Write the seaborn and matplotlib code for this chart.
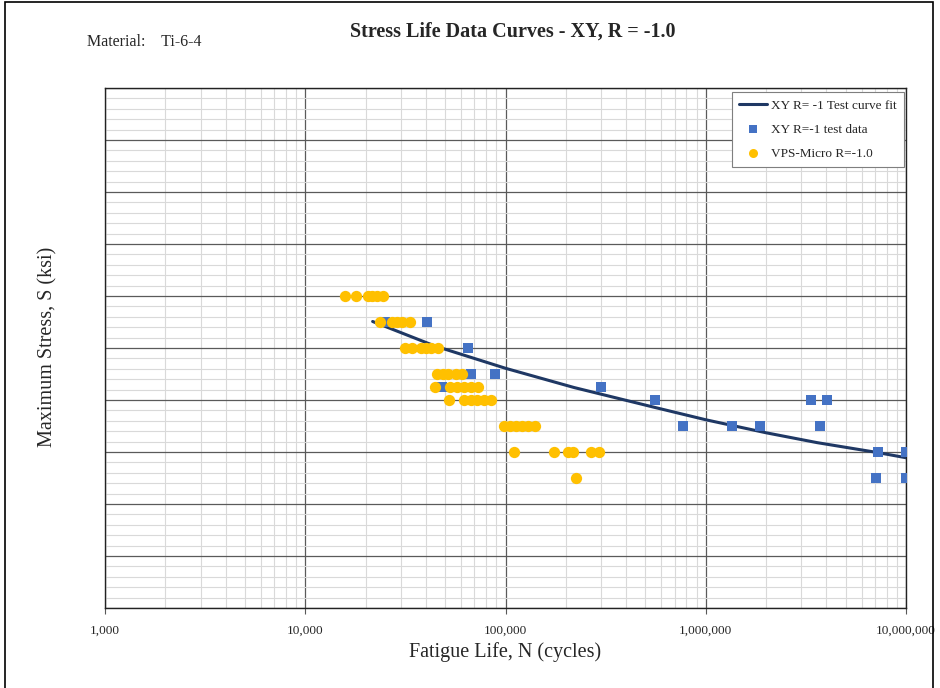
import matplotlib
matplotlib.use("Agg")
import matplotlib.pyplot as plt
from matplotlib.patches import Rectangle
from matplotlib.ticker import FixedLocator, FuncFormatter, MultipleLocator, NullFormatter
import pandas as pd
import seaborn as sns

# XY R=-1 test curve fit (cycles, ksi)
fit_cycles = [21700, 44300, 100000, 220000, 553000, 1000000, 2000000, 3600000, 7200000, 10000000]
fit_stress = [55.1, 50.4, 46.1, 42.4, 38.6, 36.2, 33.7, 31.8, 29.9, 28.9]

# XY R=-1 test data
test_cycles = [25000, 40500, 65000, 67500, 88600, 48400, 300000, 559000, 3350000, 4020000,
               774000, 1350000, 1860000, 3740000, 7260000, 10000000, 7080000, 10000000]
test_stress = [55, 55, 50, 45, 45, 42.5, 42.5, 40, 40, 40,
               35, 35, 35, 35, 30, 30, 25, 25]

# VPS-Micro R=-1.0 predictions
vps_cycles = [15800, 17900, 20600, 21500, 22800, 24500,
              23600, 27000, 28600, 30300, 33400,
              31500, 34100, 37700, 40100, 42600, 46100,
              45500, 48500, 51600, 56300, 60700,
              44300, 53100, 57500, 62300, 67500, 73100,
              52000, 62300, 67500, 71700, 77700, 84200,
              98300, 105300, 112800, 120900, 129500, 140400,
              110300, 174700, 205200, 217300, 267300, 293000,
              225000]
vps_stress = [60] * 6 + [55] * 5 + [50] * 6 + [45] * 5 + [42.5] * 6 + [40] * 6 + [35] * 6 + [30] * 6 + [25]

x_ticks = [1e3, 1e4, 1e5, 1e6, 1e7]

sns.set_theme(style="white")
plt.rcParams["font.family"] = ["Liberation Serif", "DejaVu Serif"]

fit_df = pd.DataFrame({"N": fit_cycles, "S": fit_stress})
test_df = pd.DataFrame({"N": test_cycles, "S": test_stress})
vps_df = pd.DataFrame({"N": vps_cycles, "S": vps_stress})

fig = plt.figure(figsize=(9.4, 6.88), dpi=100)
ax = fig.add_axes([105 / 940, 80 / 688, 801 / 940, 520 / 688])

sns.lineplot(data=fit_df, x="N", y="S", ax=ax, color="#1F3864", linewidth=2.2,
             label="XY R= -1 Test curve fit", zorder=3)
sns.scatterplot(data=test_df, x="N", y="S", ax=ax, color="#4472C4", marker="s", s=42,
                linewidth=0, label="XY R=-1 test data", zorder=4)
sns.scatterplot(data=vps_df, x="N", y="S", ax=ax, color="#FFC000", marker="o", s=66,
                linewidth=0, label="VPS-Micro R=-1.0", zorder=5)

ax.set_xscale("log")
ax.set_xlim(1e3, 1e7)
ax.set_ylim(0, 100)

ax.xaxis.set_major_locator(FixedLocator(x_ticks))
ax.xaxis.set_major_formatter(FuncFormatter(lambda v, _: f"{int(round(v)):,}"))
minor_x = [m * 10 ** e for e in range(3, 7) for m in range(2, 10)]
ax.xaxis.set_minor_locator(FixedLocator(minor_x))
ax.xaxis.set_minor_formatter(NullFormatter())
ax.yaxis.set_major_locator(MultipleLocator(10))
ax.yaxis.set_minor_locator(MultipleLocator(2))
ax.yaxis.set_major_formatter(NullFormatter())

ax.grid(True, which="minor", color="#d9d9d9", linewidth=0.8, zorder=0)
ax.grid(True, which="major", color="#5a5a5a", linewidth=0.9, zorder=1)
ax.set_axisbelow(True)

ax.tick_params(axis="x", which="major", direction="out", length=4, width=0.8,
               color="#595959", pad=8, labelsize=9.5, bottom=True)
ax.tick_params(axis="x", which="minor", length=0)
ax.tick_params(axis="y", which="both", length=0, left=False)

for sp in ax.spines.values():
    sp.set_color("#222222")
    sp.set_linewidth(1.0)

ax.set_xlabel("")
ax.set_ylabel("")

leg = ax.legend(loc="upper right", bbox_to_anchor=(0.997, 0.992), borderaxespad=0,
                fontsize=9.5, frameon=True, fancybox=False, framealpha=1,
                edgecolor="#7f7f7f", handlelength=2.1, handletextpad=0.3,
                labelspacing=0.9, borderpad=0.55, markerscale=0.8)
leg.get_frame().set_linewidth(0.8)

fig.text(505 / 940, 1 - 652 / 688, "Fatigue Life, N (cycles)", ha="center", va="center",
         fontsize=14.5)
fig.text(48 / 940, 1 - 347 / 688, "Maximum Stress, S (ksi)", ha="center", va="center",
         rotation=90, fontsize=14.5)
fig.text(87 / 940, 1 - 42 / 688, "Material:    Ti-6-4", ha="left", va="center", fontsize=11.5)
fig.text(513 / 940, 1 - 32 / 688, "Stress Life Data Curves - XY, R = -1.0", ha="center",
         va="center", fontsize=14.5, fontweight="bold")

# outer border around the sheet
fig.patches.append(Rectangle((5 / 940, -0.01), 928 / 940, 1.0 - 1.5 / 688 + 0.01,
                             transform=fig.transFigure, fill=False, edgecolor="black",
                             linewidth=1.2))

fig.savefig("out.png", dpi=100)
